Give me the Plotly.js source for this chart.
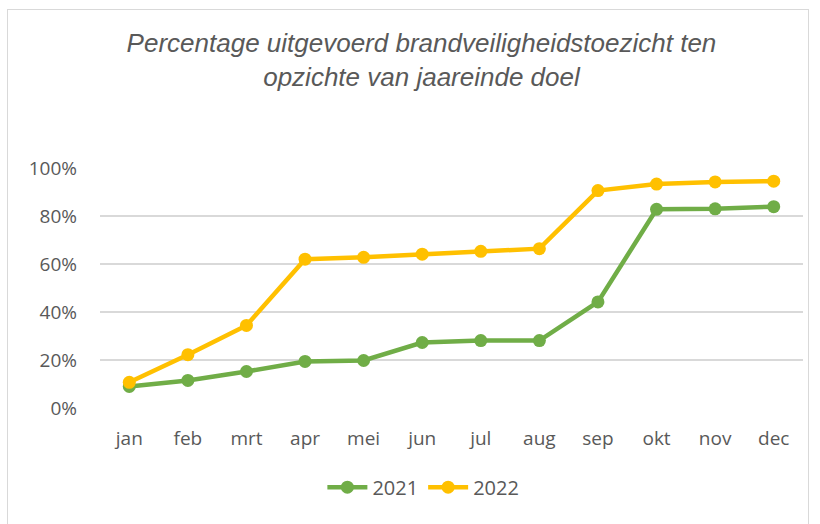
<!DOCTYPE html>
<html>
<head>
<meta charset="utf-8">
<script src="https://cdn.plot.ly/plotly-3.0.1.min.js"></script>
<style>
html,body{margin:0;padding:0;background:#fff;}
#wrap{position:relative;width:820px;height:524px;}
#chart{position:absolute;left:0;top:0;width:820px;height:524px;}
#frame{position:absolute;left:7px;top:9px;width:800px;height:530px;border:1.5px solid #d9d9d9;pointer-events:none;}
</style>
</head>
<body>
<div id="wrap"><div id="chart"></div><div id="frame"></div></div>
<script>
const months = ['jan','feb','mrt','apr','mei','jun','jul','aug','sep','okt','nov','dec'];
const seriesNames = ['2021','2022'];
const values2021 = [0.090, 0.115, 0.152, 0.194, 0.198, 0.273, 0.281, 0.281, 0.442, 0.828, 0.830, 0.839];
const values2022 = [0.107, 0.222, 0.344, 0.620, 0.628, 0.641, 0.653, 0.664, 0.906, 0.933, 0.942, 0.945];
const yTicks = [0, 0.2, 0.4, 0.6, 0.8, 1.0];
const titleText = 'Percentage uitgevoerd brandveiligheidstoezicht ten<br>opzichte van jaareinde doel';

const colors = ['#70AD47', '#FFC000'];
const traces = [values2021, values2022].map((v, i) => ({
  type: 'scatter', mode: 'lines+markers', name: seriesNames[i],
  x: months, y: v,
  line: {color: colors[i], width: 4.5},
  marker: {color: colors[i], size: 13}
}));

const font = {family: 'Open Sans, sans-serif', color: '#595959', size: 19};
const layout = {
  width: 820, height: 524,
  margin: {l: 100, r: 17, t: 168, b: 116},
  paper_bgcolor: 'rgba(0,0,0,0)', plot_bgcolor: 'rgba(0,0,0,0)',
  font: font,
  title: {text: titleText, font: {family: 'Liberation Sans, Arial, sans-serif', size: 26, color: '#595959', style: 'italic'},
          xref: 'container', x: 0.514, xanchor: 'center', yref: 'container', y: 1 - 52/524, yanchor: 'middle'},
  xaxis: {type: 'category', range: [-0.5, 11.5], showgrid: false, zeroline: false, showline: false,
          ticks: '', ticklabelstandoff: 17, tickfont: font},
  yaxis: {range: [0, 1], tickvals: yTicks, tickformat: '.0%', showgrid: true, gridcolor: '#d9d9d9', gridwidth: 1.3,
          zeroline: false, showline: false, ticks: '', ticklabelstandoff: 22, tickfont: font},
  showlegend: true,
  legend: {orientation: 'h', x: 0.46, xanchor: 'center', xref: 'paper', y: -0.33, yanchor: 'middle',
           font: {family: 'Open Sans, sans-serif', color: '#595959', size: 20},
           itemwidth: 40, traceorder: 'normal'}
};
Plotly.newPlot('chart', traces, layout, {displayModeBar: false, staticPlot: true});
</script>
</body>
</html>
